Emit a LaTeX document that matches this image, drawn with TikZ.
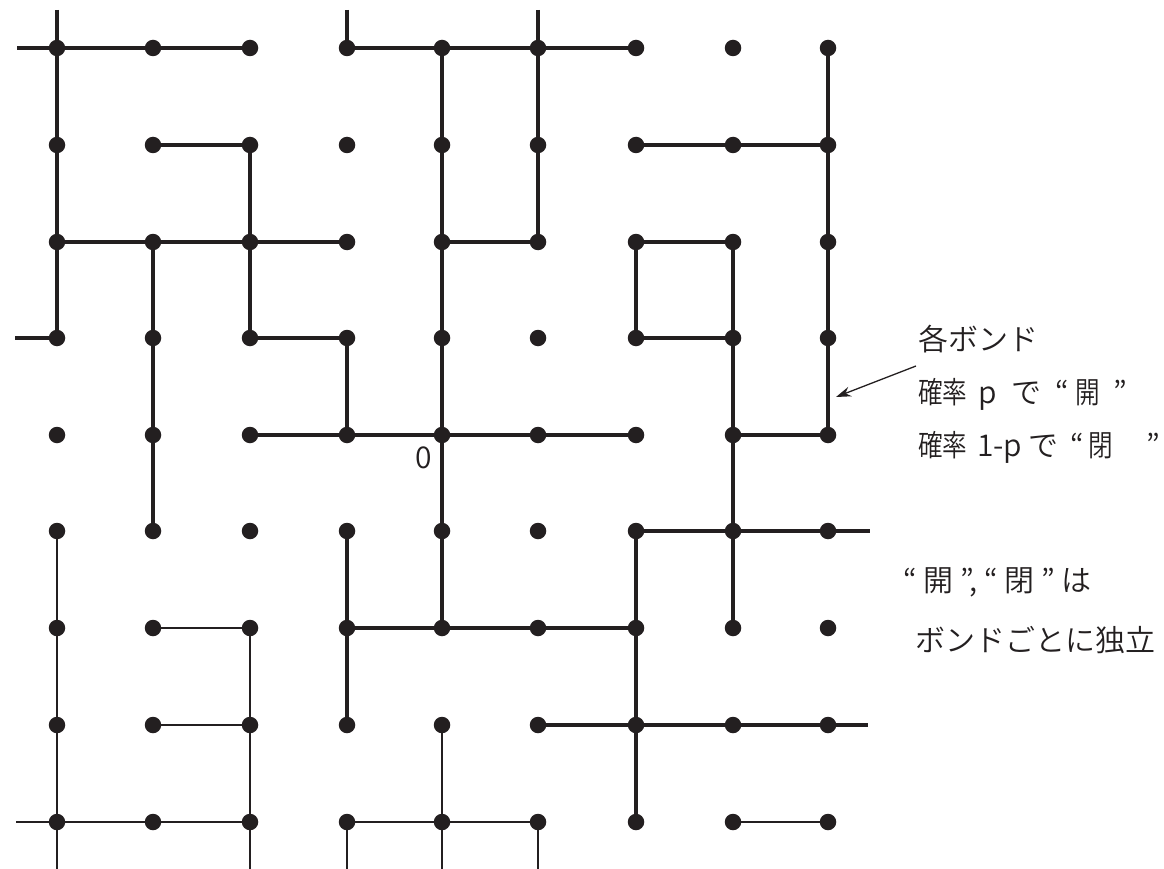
\documentclass[tikz,border=0pt]{standalone}
\usepackage{fontspec}
\newfontfamily\jp{Noto Sans CJK JP DemiLight}
\newfontfamily\jpc{Noto Sans CJK JP DemiLight}[FakeStretch=0.82]
\usetikzlibrary{arrows.meta}
\definecolor{ink}{HTML}{231F20}
\newcommand\lbox[2]{\makebox[#1pt][l]{#2}}
\begin{document}
\begin{tikzpicture}[x=1pt,y=-1pt,
  dot/.style={circle,fill=ink,inner sep=0pt,minimum size=16.5pt},
  bond/.style={draw=ink,line width=4.2pt},
  thinbond/.style={draw=ink,line width=1.6pt},
  arr/.style={draw=ink,line width=1.3pt,-{Stealth[length=15pt,width=10pt,inset=5pt]}},
  lbl/.style={font=\jp\fontsize{30}{36}\selectfont,text=ink,inner sep=0pt,anchor=west}]
\useasboundingbox (0,0) rectangle (1164,869);
% lattice points
\foreach \x [count=\i from 0] in {57,153,250,347,442,538,636,733,828}
  \foreach \y [count=\j from 0] in {48,145,242,338,435,531,628,725,822}
    \node[dot] (n\i\j) at (\x,\y) {};
% free ends of bonds leaving the picture
\coordinate (sL0) at (17,48);
\coordinate (sL3) at (15,338);
\coordinate (sL8) at (16,822);
\coordinate (sT0) at (57,10);
\coordinate (sT3) at (347,10);
\coordinate (sT5) at (538,10);
\coordinate (sR5) at (870,531);
\coordinate (sR7) at (868,725);
\coordinate (sB0) at (57,869);
\coordinate (sB2) at (250,869);
\coordinate (sB3) at (347,869);
\coordinate (sB4) at (442,869);
\coordinate (sB5) at (538,869);
% open bonds (thick), horizontal
\draw[bond] (sL0) -- (n00.center) -- (n10.center) -- (n20.center);
\draw[bond] (n30.center) -- (n40.center) -- (n50.center) -- (n60.center);
\draw[bond] (n11.center) -- (n21.center);
\draw[bond] (n61.center) -- (n71.center) -- (n81.center);
\draw[bond] (n02.center) -- (n12.center) -- (n22.center) -- (n32.center);
\draw[bond] (n42.center) -- (n52.center);
\draw[bond] (n62.center) -- (n72.center);
\draw[bond] (sL3) -- (n03.center);
\draw[bond] (n23.center) -- (n33.center);
\draw[bond] (n63.center) -- (n73.center);
\draw[bond] (n24.center) -- (n34.center) -- (n44.center) -- (n54.center) -- (n64.center);
\draw[bond] (n74.center) -- (n84.center);
\draw[bond] (n65.center) -- (n75.center) -- (n85.center) -- (sR5);
\draw[bond] (n36.center) -- (n46.center) -- (n56.center) -- (n66.center);
\draw[bond] (n57.center) -- (n67.center) -- (n77.center) -- (n87.center) -- (sR7);
% open bonds (thick), vertical
\draw[bond] (sT0) -- (n00.center) -- (n01.center) -- (n02.center) -- (n03.center);
\draw[bond] (sT3) -- (n30.center);
\draw[bond] (sT5) -- (n50.center) -- (n51.center) -- (n52.center);
\draw[bond] (n40.center) -- (n41.center) -- (n42.center) -- (n43.center) -- (n44.center) -- (n45.center) -- (n46.center);
\draw[bond] (n80.center) -- (n81.center) -- (n82.center) -- (n83.center) -- (n84.center);
\draw[bond] (n21.center) -- (n22.center) -- (n23.center);
\draw[bond] (n12.center) -- (n13.center) -- (n14.center) -- (n15.center);
\draw[bond] (n62.center) -- (n63.center);
\draw[bond] (n72.center) -- (n73.center) -- (n74.center) -- (n75.center) -- (n76.center);
\draw[bond] (n33.center) -- (n34.center);
\draw[bond] (n35.center) -- (n36.center) -- (n37.center);
\draw[bond] (n65.center) -- (n66.center) -- (n67.center) -- (n68.center);
% open bonds (thin)
\draw[thinbond] (n05.center) -- (n06.center) -- (n07.center) -- (n08.center) -- (sB0);
\draw[thinbond] (n16.center) -- (n26.center);
\draw[thinbond] (n26.center) -- (n27.center) -- (n28.center) -- (sB2);
\draw[thinbond] (n17.center) -- (n27.center);
\draw[thinbond] (sL8) -- (n08.center) -- (n18.center) -- (n28.center);
\draw[thinbond] (n38.center) -- (n48.center) -- (n58.center);
\draw[thinbond] (n38.center) -- (sB3);
\draw[thinbond] (n47.center) -- (n48.center) -- (sB4);
\draw[thinbond] (n58.center) -- (sB5);
\draw[thinbond] (n78.center) -- (n88.center);
% origin label
\node[lbl,anchor=center] (o) at (424,458) {0};
% legend
\node[lbl] (t1) at (918,339) {各ボンド};
\node[lbl] (t2) at (918,394) {\lbox{60}{\jpc 確率}\lbox{33}{p}\lbox{44}{で}\lbox{20}{“}\lbox{38}{\jpc 開}”};
\node[lbl] (t3) at (918,447) {\lbox{59}{\jpc 確率}\lbox{51}{1-p}\lbox{42}{で}\lbox{18}{“}\lbox{58}{\jpc 閉}”};
\node[lbl] (t4) at (903,582) {“ 開 ”, “ 閉 ” は};
\node[lbl] (t5) at (915,640) {ボンドごとに独立};
\coordinate (a0) at (916,366);
\coordinate (a1) at (836,397);
\draw[arr] (a0) -- (a1);
\end{tikzpicture}
\end{document}
